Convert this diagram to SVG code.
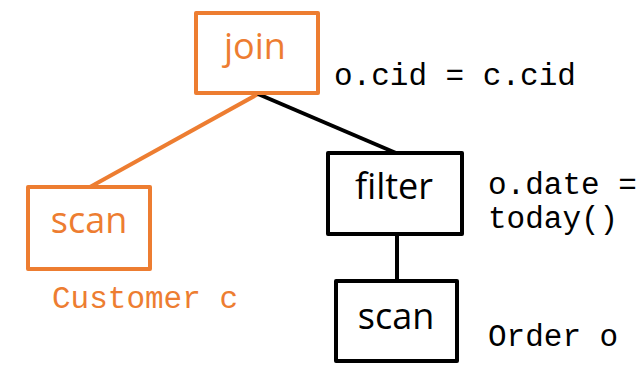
<svg xmlns="http://www.w3.org/2000/svg" width="644" height="376" viewBox="0 0 644 376">
  <style>
    .box { fill: none; stroke-width: 4; stroke-linejoin: round; }
    .orange { stroke: #ED7D31; }
    .black { stroke: #000; }
    .label { font-family: "Open Sans", "Liberation Sans", sans-serif; font-size: 36px; text-anchor: middle; }
    .code { font-family: "Liberation Mono", "DejaVu Sans Mono", monospace; font-size: 31px; }
    .edge { stroke-width: 4; fill: none; }
  </style>
  <rect width="644" height="376" fill="#fff"/>
  <g id="connectors">
    <line class="edge orange" x1="258" y1="94" x2="90" y2="187"/>
    <line class="edge black" x1="258" y1="94" x2="396" y2="153"/>
    <line class="edge black" x1="397" y1="234" x2="397" y2="281"/>
  </g>
  <g id="join">
    <rect class="box orange" x="196" y="13" width="122" height="80"/>
    <text class="label" x="255" y="59" fill="#ED7D31">join</text>
  </g>
  <g id="scan-customer">
    <rect class="box orange" x="28" y="187" width="122" height="82"/>
    <text class="label" x="89" y="233" fill="#ED7D31">scan</text>
  </g>
  <g id="filter">
    <rect class="box black" x="328" y="153" width="134" height="81"/>
    <text class="label" x="394" y="199" fill="#000">filter</text>
  </g>
  <g id="scan-order">
    <rect class="box black" x="336" y="281" width="121" height="80"/>
    <text class="label" x="396" y="329" fill="#000">scan</text>
  </g>
  <g id="annotations">
    <text class="code" x="334" y="85" fill="#000">o.cid = c.cid</text>
    <text class="code" x="488" y="194" fill="#000">o.date =</text>
    <text class="code" x="488" y="228" fill="#000">today()</text>
    <text class="code" x="488" y="346" fill="#000">Order o</text>
    <text class="code" x="52" y="308" fill="#ED7D31">Customer c</text>
  </g>
</svg>
